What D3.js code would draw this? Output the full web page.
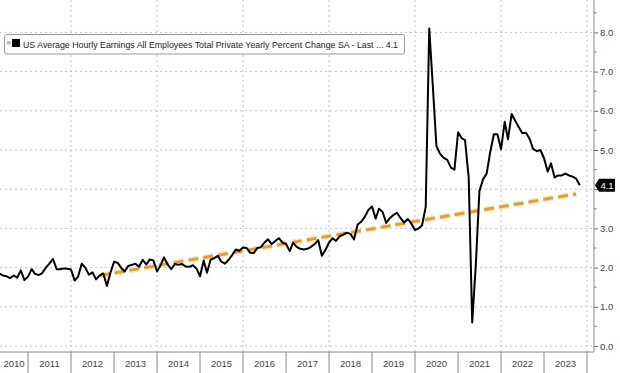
<!DOCTYPE html>
<html>
<head>
  <meta charset="utf-8">
  <title>US Average Hourly Earnings YoY</title>
  <style>
    body { margin: 0; background: #fff; }
    text { font-family: "Liberation Sans", Arial, sans-serif; }
  </style>
</head>
<body>
  <script src="https://cdn.jsdelivr.net/npm/d3@7"></script>
  <script>
    // monthly values (yoy %), first value is April 2010
    const firstMonth = new Date(2010, 3, 1);
    const ahe2010 = [1.85, 1.80, 1.78, 1.73, 1.80, 1.74, 1.93, 1.68, 1.77];
    const ahe2011 = [1.96, 1.84, 1.81, 1.86, 2.00, 2.10, 2.22, 1.96, 1.96, 1.98, 1.97, 1.95];
    const ahe2012 = [1.67, 1.77, 2.10, 2.00, 1.82, 1.88, 1.70, 1.80, 1.85, 1.53, 1.87, 2.15];
    const ahe2013 = [2.12, 2.00, 1.90, 2.04, 2.07, 2.10, 2.02, 2.20, 2.08, 2.21, 2.18, 1.90];
    const ahe2014 = [2.07, 2.26, 2.08, 1.96, 2.09, 2.07, 2.09, 2.03, 2.02, 2.06, 1.98, 1.78];
    const ahe2015 = [2.18, 1.87, 2.20, 2.24, 2.30, 2.15, 2.10, 2.20, 2.32, 2.46, 2.43, 2.51];
    const ahe2016 = [2.50, 2.38, 2.37, 2.50, 2.52, 2.64, 2.72, 2.60, 2.68, 2.75, 2.64, 2.60];
    const ahe2017 = [2.42, 2.63, 2.53, 2.48, 2.46, 2.48, 2.53, 2.60, 2.70, 2.30, 2.45, 2.64];
    const ahe2018 = [2.75, 2.68, 2.80, 2.84, 2.89, 2.86, 2.72, 3.10, 3.17, 3.30, 3.47, 3.56];
    const ahe2019 = [3.25, 3.50, 3.42, 3.14, 3.26, 3.34, 3.40, 3.26, 3.15, 3.24, 3.12, 2.96];
    const ahe2020 = [3.00, 3.08, 3.55, 8.10, 6.60, 5.10, 4.90, 4.80, 4.75, 4.55, 4.50, 5.45];
    const ahe2021 = [5.30, 5.25, 4.30, 0.60, 2.10, 3.95, 4.25, 4.40, 4.95, 5.40, 5.40, 5.02];
    const ahe2022 = [5.72, 5.27, 5.92, 5.75, 5.58, 5.43, 5.44, 5.28, 5.02, 4.97, 5.00, 4.79];
    const ahe2023 = [4.45, 4.66, 4.30, 4.35, 4.35, 4.40, 4.35, 4.32, 4.27, 4.10];

    // dashed trend line: two end points
    const trendDates = [new Date(2012, 8, 1), new Date(2023, 9, 1)];
    const trendValues = [1.80, 3.88];

    const yearLabels = [2010, 2011, 2012, 2013, 2014, 2015, 2016, 2017, 2018, 2019, 2020, 2021, 2022, 2023];
    const yTicks = [0, 1, 2, 3, 4, 5, 6, 7, 8];
    const lastValue = 4.1;
    const legendText = "US Average Hourly Earnings All Employees Total Private Yearly Percent Change SA - Last ... 4.1";

    const w = 620, h = 373;
    const plotRight = 594, plotBottom = 352;

    const values = [].concat(ahe2010, ahe2011, ahe2012, ahe2013, ahe2014, ahe2015, ahe2016,
                             ahe2017, ahe2018, ahe2019, ahe2020, ahe2021, ahe2022, ahe2023);
    // each monthly point sits at the end of its month
    const data = values.map(function(v, i) {
      return { date: d3.timeMonth.offset(firstMonth, i + 1), value: v };
    });

    const x = d3.scaleTime()
                .domain([new Date(2012, 0, 1), new Date(2024, 0, 1)])
                .range([71, 587]);
    const y = d3.scaleLinear().domain([0, 8]).range([346, 32.4]);

    const svg = d3.select("body").append("svg")
                  .attr("width", w)
                  .attr("height", h);

    svg.append("defs").append("clipPath").attr("id", "plot")
       .append("rect").attr("x", 0).attr("y", 0).attr("width", plotRight).attr("height", plotBottom);

    // grid
    const grid = svg.append("g").attr("stroke", "#c4c4c4").attr("stroke-dasharray", "2,3");
    grid.selectAll(".hgrid").data(yTicks).enter().append("line")
        .attr("x1", 0).attr("x2", plotRight)
        .attr("y1", function(d) { return y(d); }).attr("y2", function(d) { return y(d); });
    const evenYears = d3.range(2012, 2025, 2).map(function(yr) { return new Date(yr, 0, 1); });
    grid.selectAll(".vgrid").data(evenYears).enter().append("line")
        .attr("x1", function(d) { return x(d); }).attr("x2", function(d) { return x(d); })
        .attr("y1", 0).attr("y2", plotBottom);

    // trend line with pale halo
    const trend = trendDates.map(function(d, i) { return { date: d, value: trendValues[i] }; });
    const line = d3.line().x(function(d) { return x(d.date); }).y(function(d) { return y(d.value); });
    svg.append("path").datum(trend)
       .attr("d", line)
       .attr("fill", "none").attr("stroke", "#f6dfa6").attr("stroke-width", 6)
       .attr("stroke-dasharray", "10,5").attr("opacity", 0.7);
    svg.append("path").datum(trend)
       .attr("d", line)
       .attr("fill", "none").attr("stroke", "#e19f3c").attr("stroke-width", 3)
       .attr("stroke-dasharray", "10,5");

    // main series
    svg.append("path").datum(data)
       .attr("clip-path", "url(#plot)")
       .attr("d", line)
       .attr("fill", "none").attr("stroke", "#000").attr("stroke-width", 2)
       .attr("stroke-linejoin", "round");

    // right axis (the 4.0 label sits under the last value tag, so it is not drawn)
    const yAxis = d3.axisRight(y).tickValues(yTicks).tickSize(4).tickPadding(2)
                    .tickFormat(function(d) { return d === 4 ? "" : d3.format(".1f")(d); });
    const ya = svg.append("g").attr("transform", "translate(" + plotRight + ",0)").call(yAxis);
    ya.select(".domain").remove();
    ya.selectAll("line").attr("stroke", "#666");
    ya.selectAll("text").attr("fill", "#444").attr("font-size", "9.5px")
      .attr("font-family", "'Liberation Sans', Arial, sans-serif");
    // minor ticks
    svg.append("g").selectAll("line").data(d3.range(0.5, 9, 1)).enter().append("line")
       .attr("x1", plotRight).attr("x2", plotRight + 2.5)
       .attr("y1", function(d) { return y(d); }).attr("y2", function(d) { return y(d); })
       .attr("stroke", "#777");
    svg.append("line").attr("x1", plotRight).attr("x2", plotRight)
       .attr("y1", 0).attr("y2", plotBottom).attr("stroke", "#888");

    // bottom year boxes
    svg.append("line").attr("x1", 0).attr("x2", plotRight)
       .attr("y1", plotBottom).attr("y2", plotBottom).attr("stroke", "#888");
    svg.append("g").selectAll("line").data(yearLabels.slice(1).concat([2024])).enter().append("line")
       .attr("x1", function(d) { return x(new Date(d, 0, 1)); })
       .attr("x2", function(d) { return x(new Date(d, 0, 1)); })
       .attr("y1", plotBottom).attr("y2", h).attr("stroke", "#888");
    svg.append("g").selectAll("text").data(yearLabels).enter().append("text")
       .attr("x", function(d) {
         const a = Math.max(0, x(new Date(d, 0, 1)));
         const b = x(new Date(d + 1, 0, 1));
         return (a + b) / 2;
       })
       .attr("y", 367)
       .attr("text-anchor", "middle")
       .attr("font-size", "9.5px")
       .attr("fill", "#444")
       .text(function(d) { return d; });

    // last value tag
    const ty = y(lastValue);
    svg.append("path")
       .attr("d", "M" + (plotRight + 1) + "," + ty + " l4,-6.5 h16 v13 h-16 z")
       .attr("fill", "#000");
    svg.append("text").attr("x", plotRight + 13).attr("y", ty + 3.5)
       .attr("text-anchor", "middle").attr("font-size", "9.5px").attr("fill", "#fff")
       .text(lastValue.toFixed(1));

    // legend
    const lg = svg.append("g");
    lg.append("rect").attr("x", 4.5).attr("y", 34.5).attr("width", 400).attr("height", 19.5)
      .attr("rx", 2).attr("fill", "#fff").attr("stroke", "#999");
    lg.append("rect").attr("x", 7).attr("y", 41).attr("width", 3.5).attr("height", 3.5).attr("fill", "#bbb");
    lg.append("rect").attr("x", 12).attr("y", 39).attr("width", 8).attr("height", 8).attr("fill", "#000");
    lg.append("text").attr("x", 23).attr("y", 47.5)
      .attr("font-size", "9px").attr("fill", "#222")
      .attr("textLength", 375).attr("lengthAdjust", "spacingAndGlyphs")
      .text(legendText);
  </script>
</body>
</html>
